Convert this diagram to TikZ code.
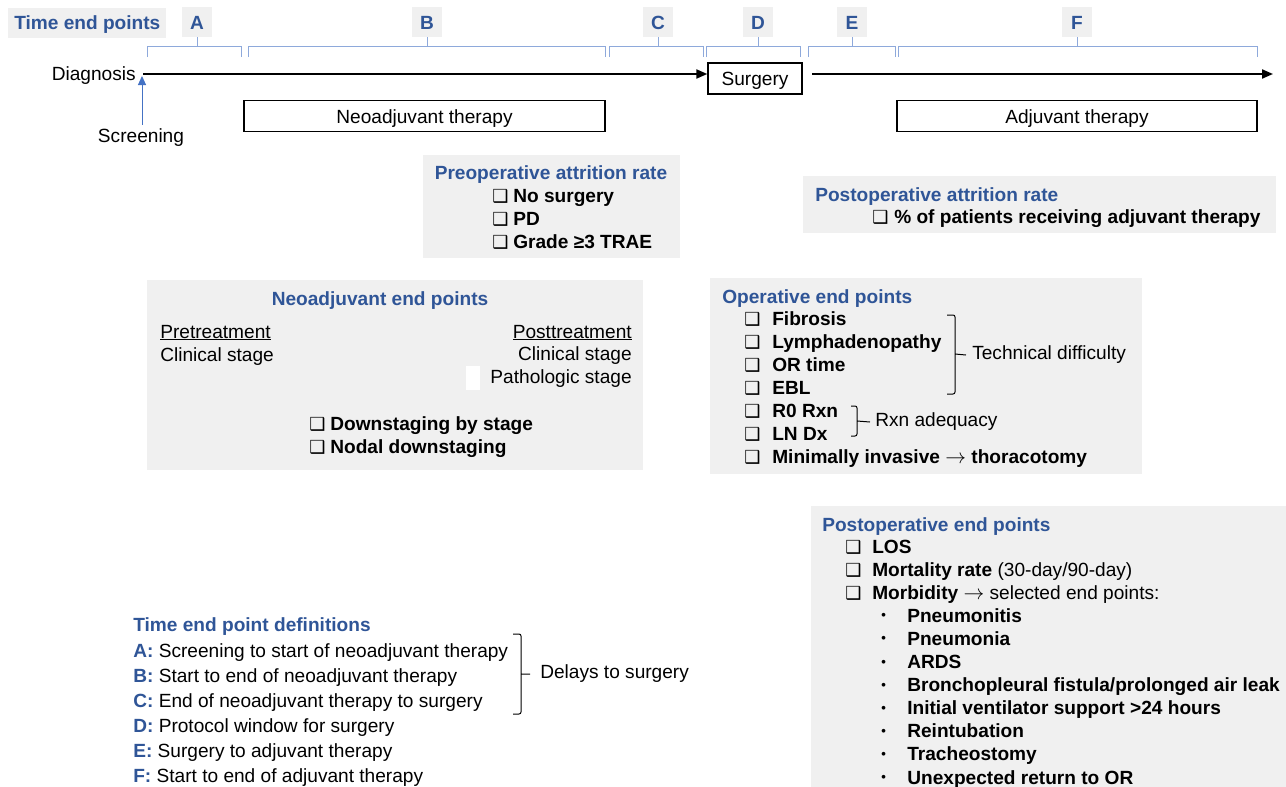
\documentclass[tikz,border=0pt]{standalone}
\usepackage{fontspec}
\setmainfont{Liberation Sans}
\newfontfamily\dejavu{DejaVu Sans}
\usetikzlibrary{positioning,arrows.meta}
\definecolor{hdblue}{RGB}{47,85,151}
\definecolor{brblue}{RGB}{142,169,219}
\definecolor{arblue}{RGB}{68,114,196}
\definecolor{boxgray}{RGB}{240,240,240}
\newcommand\cbx[1]{\makebox[#1][l]{\dejavu\fontsize{18}{18}\selectfont ❑}}
\newcommand\bul{\hspace{36pt}\makebox[26pt][l]{\raisebox{2.5pt}{\fontsize{13}{13}\selectfont\textbullet}}}
\newcommand\dl[1]{{\color{hdblue}\bfseries #1:} }
\newcommand\tto{\textnormal{ $\rightarrow$ }}

\begin{document}
\begin{tikzpicture}[x=1pt, y=-1pt, semithick, font=\fontsize{19.1}{23}\selectfont,
txt/.style={inner sep=0pt, anchor=base west},
list/.style={txt, align=left},
hd/.style={txt, font=\fontsize{19.1}{23}\selectfont\bfseries, text=hdblue},
panel/.style={fill=boxgray, draw=none},
period/.style={draw, line width=1.3pt, minimum height=31pt, inner sep=0pt, text height=14pt, text depth=0pt},
letter/.style={fill=boxgray, minimum width=30pt, minimum height=30pt, inner sep=0pt, text height=14pt, text depth=0pt, font=\fontsize{19.1}{23}\selectfont\bfseries, text=hdblue},
span/.style={draw=brblue, line width=1pt},
brack/.style={draw, line width=1pt, rounded corners=2pt}]
\useasboundingbox (0,0) rectangle (1286,787);

% timeline
\node[letter, minimum width=158pt, anchor=west] (ttl) at (8,23) {Time end points};
\foreach \n/\a/\b/\c in {A/147/241/197, B/248/605/427, C/609/703/658, D/706/800/758, E/808/895/852, F/898/1257/1077} {
  \node[letter] (\n) at (\c,22) {\n};
  \draw[span] (\a,57) -- (\a,46) -- (\b,46) -- (\b,57) (\c,46) -- (\n.south);
}
\node[anchor=east, inner sep=0pt] (diag) at (136,76) {Diagnosis};
\coordinate (t0) at (143,74);
\coordinate (t1) at (812,74);
\coordinate (tend) at (1273,74);
\node[period, minimum width=94pt] (surg) at (755,78.5) {Surgery};
\draw[-{Triangle[length=11pt,width=9pt]}, line width=2pt] (t0) -- (t0 -| surg.west);
\draw[-{Triangle[length=11pt,width=9pt]}, line width=2pt] (t1) -- (tend);
\node[inner sep=0pt] (scr) at (141,138) {Screening};
\coordinate (scrtip) at (142,76);
\draw[-{Triangle[length=9pt,width=8pt]}, arblue, line width=1pt] ([yshift=4pt]scr.north -| scrtip) -- (scrtip);
\node[period, minimum width=361pt] (neo) at (424.5,116) {Neoadjuvant therapy};
\node[period, minimum width=360pt] (adj) at (1077,116) {Adjuvant therapy};

% attrition
\fill[panel] (423,155) rectangle (680,258);
\node[hd, anchor=base] (preh) at (551,179) {Preoperative attrition rate};
\node[list, font=\fontsize{19.1}{23}\selectfont\bfseries] (prel) at (492,248) {\cbx{21pt}No surgery\\\cbx{21pt}PD\\\cbx{21pt}Grade ≥3 TRAE};
\fill[panel] (803,176) rectangle (1276,233);
\node[hd] (posth) at (815,201) {Postoperative attrition rate};
\node[txt, font=\fontsize{19.1}{23}\selectfont\bfseries] (postl) at (872,223) {\cbx{22pt}\% of patients receiving adjuvant therapy};

% neoadjuvant
\fill[panel] (147,280) rectangle (643,470);
\node[hd, anchor=base] (neoh) at (380,305) {Neoadjuvant end points};
\node[list] (pre) at (160,361) {\underline{Pretreatment}\\Clinical stage};
\node[txt, align=right, anchor=base east, font=\fontsize{19.1}{22.5}\selectfont] (post) at (632,383) {\underline{Posttreatment}\\Clinical stage\\Pathologic stage};
\fill[white] (466,366) rectangle (480,390);
\node[list, font=\fontsize{19.1}{22.5}\selectfont\bfseries] (neol) at (309,453) {\cbx{21pt}Downstaging by stage\\\cbx{21pt}Nodal downstaging};

% operative
\fill[panel] (710,278) rectangle (1142,474);
\node[hd] (oph) at (722,303) {Operative end points};
\node[list, font=\fontsize{19.1}{23}\selectfont\bfseries] (opl) at (744,463) {\cbx{28pt}Fibrosis\\\cbx{28pt}Lymphadenopathy\\\cbx{28pt}OR time\\\cbx{28pt}EBL\\\cbx{28pt}R0 Rxn\\\cbx{28pt}LN Dx\\\cbx{28pt}Minimally invasive\tto thoracotomy};
\node[anchor=west, inner sep=0pt] (tech) at (972,355) {Technical difficulty};
\draw[brack] (947,315) -- (955,315) -- (955,394) -- (947,394) (955,354) -- ([xshift=-6pt]tech.west);
\node[anchor=west, inner sep=0pt] (rxn) at (875,422) {Rxn adequacy};
\draw[brack] (851,406) -- (857,406) -- (857,436) -- (851,436) (857,421) -- ([xshift=-5pt]rxn.west);

% postoperative
\fill[panel] (811,506) rectangle (1286,787);
\node[hd] (poh) at (822,531) {Postoperative end points};
\node[list, font=\fontsize{19.1}{23.1}\selectfont\bfseries] (pol) at (845,784) {\cbx{27pt}LOS\\\cbx{27pt}Mortality rate \textnormal{(30-day/90-day)}\\\cbx{27pt}Morbidity\textnormal{ $\rightarrow$ selected end points:}\\
\bul Pneumonitis\\\bul Pneumonia\\\bul ARDS\\\bul Bronchopleural fistula/prolonged air leak\\\bul Initial ventilator support >24 hours\\\bul Reintubation\\\bul Tracheostomy\\\bul Unexpected return to OR};

% definitions
\node[hd] (defh) at (133,631) {Time end point definitions};
\node[list, font=\fontsize{19.1}{25}\selectfont] (defl) at (133,782) {\dl{A}Screening to start of neoadjuvant therapy\\\dl{B}Start to end of neoadjuvant therapy\\\dl{C}End of neoadjuvant therapy to surgery\\\dl{D}Protocol window for surgery\\\dl{E}Surgery to adjuvant therapy\\\dl{F}Start to end of adjuvant therapy};
\node[anchor=west, inner sep=0pt] (delay) at (540,674) {Delays to surgery};
\draw[brack] (513,634) -- (521,634) -- (521,714) -- (513,714) (521,674) -- ([xshift=-10pt]delay.west);
\end{tikzpicture}
\end{document}
